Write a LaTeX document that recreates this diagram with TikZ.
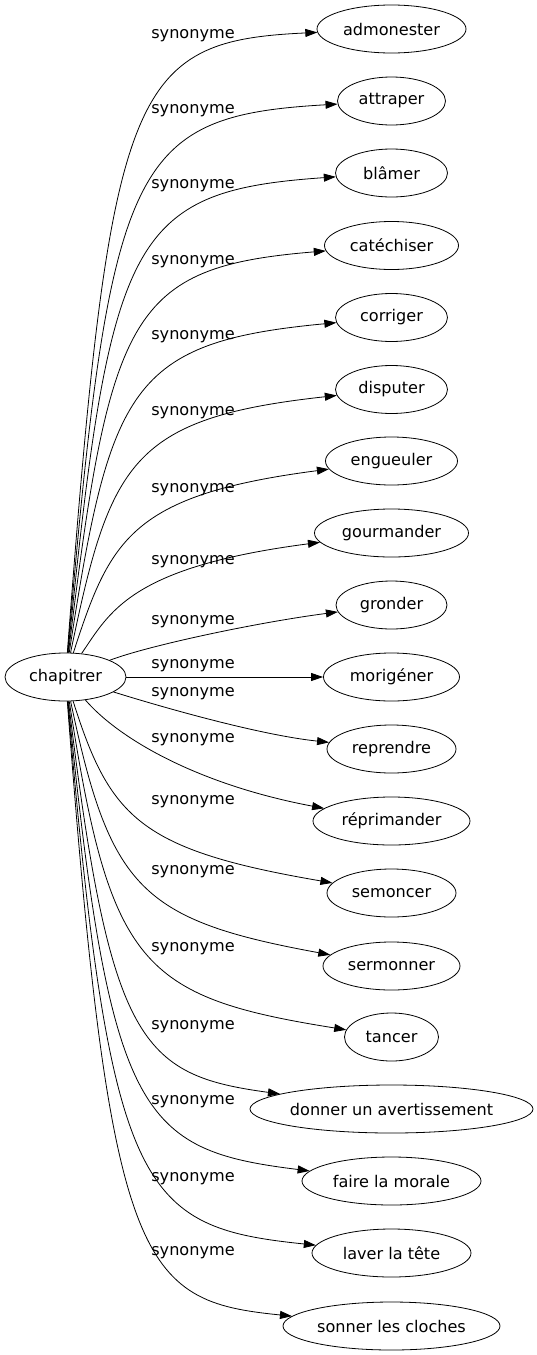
\documentclass[tikz,border=0pt]{standalone}
\usepackage{fontspec}
\setmainfont{DejaVu Sans}
\usepackage{tikz}
\usetikzlibrary{arrows.meta,shapes.geometric}

\begin{document}
\begin{tikzpicture}[x=1pt, y=-1pt, line width=0.8pt,
	every node/.style={font=\fontsize{16.1pt}{19pt}\selectfont},
	word/.style={draw, ellipse, minimum height=48pt, inner xsep=-4pt, inner ysep=0pt},
	syn/.style={-{Triangle[length=12pt, width=8pt]}},
	lab/.style={inner sep=0pt}]
	\useasboundingbox (0,0) rectangle (537,1355);
	% source word
	\node[word, minimum width=121pt] (chap) at (65.5,677) {chapitrer};
	% synonyms
	\node[word, minimum width=149pt] (adm) at (391.5,29) {admonester};
	\node[word, minimum width=108pt] (att) at (391.5,101) {attraper};
	\node[word, minimum width=112pt] (bla) at (391.5,173) {blâmer};
	\node[word, minimum width=134pt] (cat) at (391.5,245.5) {catéchiser};
	\node[word, minimum width=112pt] (cor) at (391.5,317.5) {corriger};
	\node[word, minimum width=112pt] (dis) at (391.5,389.5) {disputer};
	\node[word, minimum width=132pt] (eng) at (391.5,461) {engueuler};
	\node[word, minimum width=154pt] (gou) at (391.5,533) {gourmander};
	\node[word, minimum width=111pt] (gro) at (391.5,605) {gronder};
	\node[word, minimum width=136pt] (mor) at (391.5,677) {morigéner};
	\node[word, minimum width=129pt] (rep) at (391.5,749) {reprendre};
	\node[word, minimum width=157pt] (rpm) at (391.5,821) {réprimander};
	\node[word, minimum width=129pt] (sem) at (391.5,893) {semoncer};
	\node[word, minimum width=137pt] (ser) at (391.5,966) {sermonner};
	\node[word, minimum width=94pt] (tan) at (391.5,1037) {tancer};
	\node[word, minimum width=283pt] (don) at (391.5,1109) {donner un avertissement};
	\node[word, minimum width=179pt] (fai) at (391.5,1181) {faire la morale};
	\node[word, minimum width=159pt] (lav) at (391.5,1253) {laver la tête};
	\node[word, minimum width=217pt] (son) at (391.5,1326) {sonner les cloches};
	% edges, upper half
	\draw[syn] (chap) .. controls (110,86) and (130,41) .. (adm);
	\draw[syn] (chap) .. controls (110,161) and (130,116) .. (att);
	\draw[syn] (chap) .. controls (110,236) and (130,191) .. (bla);
	\draw[syn] (chap) .. controls (110,312) and (130,267) .. (cat);
	\draw[syn] (chap) .. controls (110,387) and (130,342) .. (cor);
	\draw[syn] (chap) .. controls (110,463) and (130,418) .. (dis);
	\draw[syn] (chap) .. controls (110,540) and (130,495) .. (eng);
	\draw[syn] (chap) .. controls (110,612) and (130,567) .. (gou);
	\draw[syn] (chap) .. controls (150,645) and (260,622) .. (gro);
	\draw[syn] (chap) -- (mor);
	% edges, lower half
	\draw[syn] (chap) .. controls (165,708) and (260,735) .. (rep);
	\draw[syn] (chap) .. controls (120,740) and (200,785) .. (rpm);
	\draw[syn] (chap) .. controls (110,818) and (140,850) .. (sem);
	\draw[syn] (chap) .. controls (110,888) and (140,920) .. (ser);
	\draw[syn] (chap) .. controls (110,965) and (140,997) .. (tan);
	\draw[syn] (chap) .. controls (110,1043) and (140,1075) .. (don);
	\draw[syn] (chap) .. controls (110,1118) and (140,1150) .. (fai);
	\draw[syn] (chap) .. controls (110,1195) and (140,1227) .. (lav);
	\draw[syn] (chap) .. controls (110,1269) and (140,1301) .. (son);
	% edge labels
	\node[lab] (l1) at (193,36) {synonyme};
	\node[lab] (l2) at (193,111) {synonyme};
	\node[lab] (l3) at (193,186) {synonyme};
	\node[lab] (l4) at (193,262) {synonyme};
	\node[lab] (l5) at (193,337) {synonyme};
	\node[lab] (l6) at (193,413) {synonyme};
	\node[lab] (l7) at (193,490) {synonyme};
	\node[lab] (l8) at (193,562) {synonyme};
	\node[lab] (l9) at (193,622) {synonyme};
	\node[lab] (l10) at (193,666) {synonyme};
	\node[lab] (l11) at (193,694) {synonyme};
	\node[lab] (l12) at (193,740) {synonyme};
	\node[lab] (l13) at (193,802) {synonyme};
	\node[lab] (l14) at (193,872) {synonyme};
	\node[lab] (l15) at (193,949) {synonyme};
	\node[lab] (l16) at (193,1027) {synonyme};
	\node[lab] (l17) at (193,1102) {synonyme};
	\node[lab] (l18) at (193,1179) {synonyme};
	\node[lab] (l19) at (193,1253) {synonyme};
\end{tikzpicture}
\end{document}
